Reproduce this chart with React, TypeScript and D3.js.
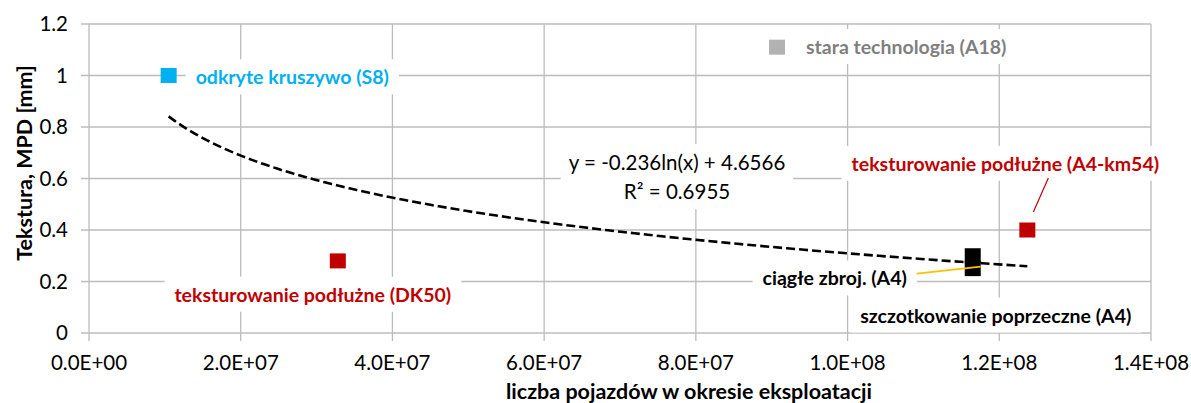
import { useEffect, useRef } from "react";
import * as d3 from "d3";

// points (one per road section)
const pointNames = [
  "odkryte kruszywo (S8)",
  "stara technologia (A18)",
  "teksturowanie podłużne (DK50)",
  "teksturowanie podłużne (A4-km54)",
  "szczotkowanie poprzeczne (A4)",
  "ciągłe zbroj. (A4)",
];
const vehicles = [1.05e7, 9.07e7, 3.28e7, 1.237e8, 1.165e8, 1.165e8];
const mpd = [1.0, 1.11, 0.28, 0.4, 0.3, 0.25];
const pointColors = ["#00b0f0", "#b2b2b2", "#c00000", "#c00000", "#000000", "#000000"];
const labelColors = ["#00b0f0", "#7f7f7f", "#c00000", "#c00000", "#000000", "#000000"];

const xTicks = [0, 2e7, 4e7, 6e7, 8e7, 1e8, 1.2e8, 1.4e8];
const xTickLabels = ["0.0E+00", "2.0E+07", "4.0E+07", "6.0E+07", "8.0E+07", "1.0E+08", "1.2E+08", "1.4E+08"];
const yTicks = [0, 0.2, 0.4, 0.6, 0.8, 1, 1.2];
const yTickLabels = ["0", "0.2", "0.4", "0.6", "0.8", "1", "1.2"];

// logarithmic trendline shown on the chart
const trendA = -0.236;
const trendB = 4.6566;
const trendR2 = 0.6955;

// label placement relative to its point (px): dx, dy, anchor
const labelLayout: [number, number, string][] = [
  [27, 2, "start"],
  [29, 0, "start"],
  [-25, 34, "middle"],
  [-22, -66, "middle"],
  [23, 60, "middle"],
  [-138, 10, "middle"],
];
// leader lines relative to the point: [x1, y1, x2, y2, color]
const leaders: (null | [number, number, number, number, string])[] = [
  null, null, null,
  [21, -52, 6, -18, "#c00000"],
  null,
  [-56, 5, 8, -2, "#ffc000"],
];

const W = 1191, H = 403;
const margin = { left: 89, right: 40, top: 24, bottom: 70 };
const FONT = "Lato, 'Noto Sans', sans-serif";

export default function App() {
  const ref = useRef<SVGSVGElement>(null);

  useEffect(() => {
    const svg = d3.select(ref.current);
    svg.selectAll("*").remove();

    const x = d3.scaleLinear().domain([0, 1.4e8]).range([margin.left, W - margin.right]);
    const y = d3.scaleLinear().domain([0, 1.2]).range([H - margin.bottom, margin.top]);
    const grid = "#bcbcbc";

    // gridlines
    svg.append("g").selectAll("line").data(yTicks).join("line")
      .attr("x1", x(0) - 8).attr("x2", x(1.4e8))
      .attr("y1", d => y(d)).attr("y2", d => y(d))
      .attr("stroke", grid).attr("stroke-width", 1.3);
    svg.append("g").selectAll("line").data(xTicks).join("line")
      .attr("x1", d => x(d)).attr("x2", d => x(d))
      .attr("y1", y(1.2)).attr("y2", y(0) + 8)
      .attr("stroke", grid).attr("stroke-width", 1.3);

    // tick labels
    svg.append("g").selectAll("text").data(yTicks).join("text")
      .attr("x", 68).attr("y", d => y(d)).attr("dy", "0.35em")
      .attr("text-anchor", "end").attr("font-family", FONT).attr("font-size", 20.5)
      .attr("fill", "#000").text((d, i) => yTickLabels[i]);
    svg.append("g").selectAll("text").data(xTicks).join("text")
      .attr("x", d => x(d)).attr("y", 363).attr("dy", "0.35em")
      .attr("text-anchor", "middle").attr("font-family", FONT).attr("font-size", 20.5)
      .attr("fill", "#000").text((d, i) => xTickLabels[i]);

    // axis titles
    svg.append("text")
      .attr("transform", `translate(32,163) rotate(-90)`)
      .attr("text-anchor", "middle").attr("font-family", FONT).attr("font-weight", "bold")
      .attr("font-size", 21.5).text("Tekstura, MPD [mm]");
    svg.append("text")
      .attr("x", 689).attr("y", 399)
      .attr("text-anchor", "middle").attr("font-family", FONT).attr("font-weight", "bold")
      .attr("font-size", 21.5).text("liczba pojazdów w okresie eksploatacji");

    // trendline
    const [xmin, xmax] = d3.extent(vehicles) as [number, number];
    const tx = d3.range(0, 101).map(i => xmin * Math.pow(xmax / xmin, i / 100));
    const line = d3.line<number>().x(d => x(d)).y(d => y(trendA * Math.log(d) + trendB));
    svg.append("path").attr("d", line(tx) as string)
      .attr("fill", "none").attr("stroke", "#000").attr("stroke-width", 2.6)
      .attr("stroke-dasharray", "9,4");

    // labels with white boxes
    const addBoxed = (g: d3.Selection<SVGGElement, unknown, null, undefined>, padX: number, padY: number) => {
      const b = (g.node() as SVGGElement).getBBox();
      g.insert("rect", ":first-child")
        .attr("x", b.x - padX).attr("y", b.y - padY)
        .attr("width", b.width + 2 * padX).attr("height", b.height + 2 * padY)
        .attr("fill", "#fff");
    };

    const eq = svg.append("g");
    eq.append("text").attr("x", 677).attr("y", 163).attr("dy", "0.35em")
      .attr("text-anchor", "middle").attr("font-family", FONT).attr("font-size", 20.5)
      .text(`y = ${trendA}ln(x) + ${trendB}`);
    eq.append("text").attr("x", 677).attr("y", 192).attr("dy", "0.35em")
      .attr("text-anchor", "middle").attr("font-family", FONT).attr("font-size", 20.5)
      .text(`R² = ${trendR2}`);
    addBoxed(eq, 8, 6);

    pointNames.forEach((name, i) => {
      const [dx, dy, anchor] = labelLayout[i];
      const g = svg.append("g");
      g.append("text")
        .attr("x", x(vehicles[i]) + dx).attr("y", y(mpd[i]) + dy).attr("dy", "0.35em")
        .attr("text-anchor", anchor).attr("font-family", FONT).attr("font-weight", "bold")
        .attr("font-size", 19.5).attr("fill", labelColors[i]).text(name);
      addBoxed(g, 10, 6);
    });

    // markers
    svg.append("g").selectAll("rect").data(vehicles).join("rect")
      .attr("x", d => x(d) - 8).attr("y", (d, i) => y(mpd[i]) - 7.5)
      .attr("width", 16).attr("height", 15)
      .attr("fill", (d, i) => pointColors[i]);

    // leader lines
    leaders.forEach((l, i) => {
      if (!l) return;
      const px = x(vehicles[i]), py = y(mpd[i]);
      svg.append("line")
        .attr("x1", px + l[0]).attr("y1", py + l[1])
        .attr("x2", px + l[2]).attr("y2", py + l[3])
        .attr("stroke", l[4]).attr("stroke-width", i === 5 ? 2 : 1.2);
    });
  }, []);

  return (
    <svg ref={ref} width={W} height={H}
      style={{ position: "absolute", left: 0, top: 0, background: "#fff" }} />
  );
}
